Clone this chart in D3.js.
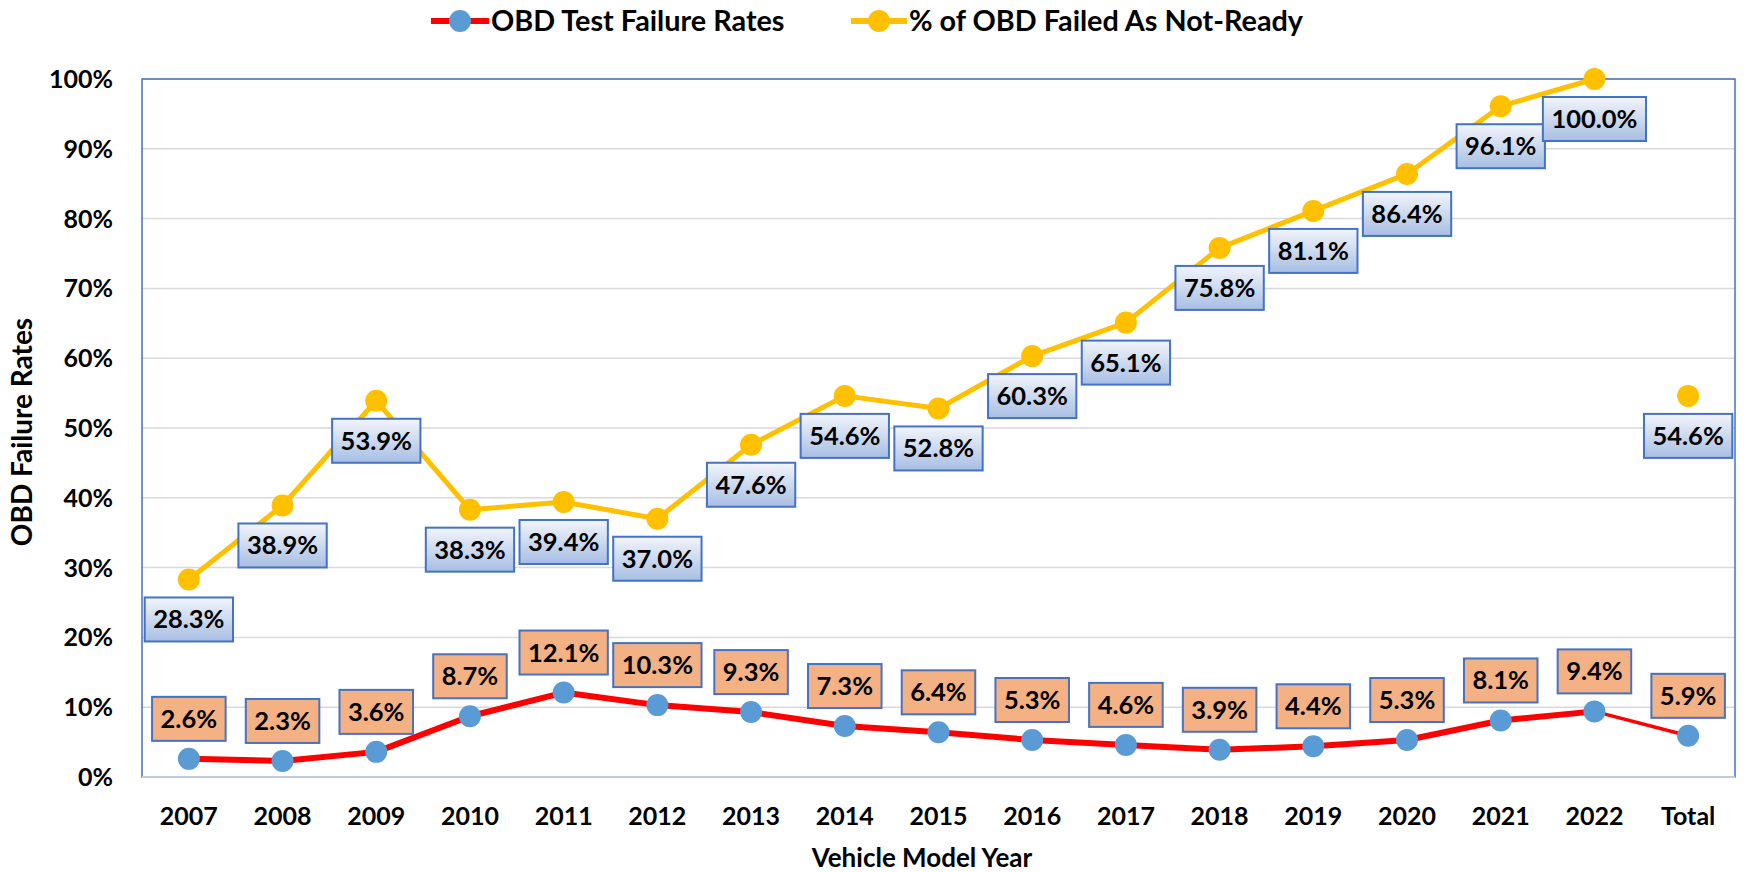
<!DOCTYPE html>
<html>
<head>
<meta charset="utf-8">
<script src="https://cdn.jsdelivr.net/npm/d3@7"></script>
<style>
  body { margin: 0; background: #fff; }
  text { font-family: Lato, "Open Sans", sans-serif; font-weight: bold; fill: #000; }
</style>
</head>
<body>
<div id="chart"></div>
<script>
// Model years (last one is the overall total)
var years = ["2007", "2008", "2009", "2010", "2011", "2012", "2013", "2014", "2015",
  "2016", "2017", "2018", "2019", "2020", "2021", "2022", "Total"];

// OBD test failure rates, %
var failRates = [2.6, 2.3, 3.6, 8.7, 12.1, 10.3, 9.3, 7.3, 6.4, 5.3, 4.6, 3.9, 4.4, 5.3, 8.1, 9.4, 5.9];

// % of OBD failures that failed as not-ready
var notReady = [28.3, 38.9, 53.9, 38.3, 39.4, 37.0, 47.6, 54.6, 52.8, 60.3, 65.1, 75.8, 81.1, 86.4, 96.1, 100.0, 54.6];

var yTicks = [0, 10, 20, 30, 40, 50, 60, 70, 80, 90, 100];

var W = 1744, H = 872;
var plotL = 142, plotR = 1735, plotT = 79, plotB = 777;

var svg = d3.select("#chart")
  .append("svg")
  .attr("width", W)
  .attr("height", H);

// gradient for the blue label boxes
var grad = svg.append("defs").append("linearGradient")
  .attr("id", "blueBox")
  .attr("x1", 0).attr("y1", 0).attr("x2", 0).attr("y2", 1);
grad.append("stop").attr("offset", "0%").attr("stop-color", "#f2f5fb");
grad.append("stop").attr("offset", "100%").attr("stop-color", "#a7bee3");

var x = d3.scaleBand().domain(years).range([plotL, plotR]);
var y = d3.scaleLinear().domain([0, 100]).range([plotB, plotT]);
var cx = function(i) { return x(years[i]) + x.bandwidth() / 2; };

// Gridlines
svg.append("g")
  .selectAll("line")
  .data(yTicks.slice(1))
  .enter().append("line")
  .attr("x1", plotL).attr("x2", plotR)
  .attr("y1", d => y(d)).attr("y2", d => y(d))
  .attr("stroke", "#d9d9d9")
  .attr("stroke-width", 1.5);

// plot border
svg.append("rect")
  .attr("x", plotL).attr("y", plotT)
  .attr("width", plotR - plotL).attr("height", plotB - plotT)
  .attr("fill", "none")
  .attr("stroke", "#4472c4")
  .attr("stroke-width", 1.5);

svg.append("line")
  .attr("x1", plotL).attr("x2", plotR)
  .attr("y1", plotB).attr("y2", plotB)
  .attr("stroke", "#c3cbdb")
  .attr("stroke-width", 2);

// Y axis labels
svg.append("g")
  .selectAll("text")
  .data(yTicks)
  .enter().append("text")
  .attr("x", 113)
  .attr("y", d => y(d) + 9)
  .attr("text-anchor", "end")
  .style("font-size", "25px")
  .text(d => d + "%");

// X axis labels
svg.append("g")
  .selectAll("text")
  .data(years)
  .enter().append("text")
  .attr("x", d => x(d) + x.bandwidth() / 2)
  .attr("y", 825)
  .attr("text-anchor", "middle")
  .style("font-size", "25px")
  .text(d => d);

// Axis titles
svg.append("text")
  .attr("x", 922)
  .attr("y", 867)
  .attr("text-anchor", "middle")
  .style("font-size", "26px")
  .text("Vehicle Model Year");

svg.append("text")
  .attr("transform", "translate(32,432) rotate(-90)")
  .attr("text-anchor", "middle")
  .style("font-size", "28px")
  .text("OBD Failure Rates");

// yellow line, 2007-2022 only
var yrIdx = d3.range(0, 16);
svg.append("path")
  .attr("d", d3.line().x(i => cx(i)).y(i => y(notReady[i]))(yrIdx))
  .attr("fill", "none")
  .attr("stroke", "#ffc000")
  .attr("stroke-width", 5)
  .attr("stroke-linejoin", "round");

// red line, thick through 2022 then thin to total
svg.append("path")
  .attr("d", d3.line().x(i => cx(i)).y(i => y(failRates[i]))(yrIdx))
  .attr("fill", "none")
  .attr("stroke", "#ff0000")
  .attr("stroke-width", 6)
  .attr("stroke-linejoin", "round");
svg.append("path")
  .attr("d", d3.line().x(i => cx(i)).y(i => y(failRates[i]))([15, 16]))
  .attr("fill", "none")
  .attr("stroke", "#ff0000")
  .attr("stroke-width", 3.5);

// markers
svg.append("g")
  .selectAll("circle")
  .data(notReady)
  .enter().append("circle")
  .attr("cx", (d, i) => cx(i))
  .attr("cy", d => y(d))
  .attr("r", 11)
  .attr("fill", "#ffc000");

svg.append("g")
  .selectAll("circle")
  .data(failRates)
  .enter().append("circle")
  .attr("cx", (d, i) => cx(i))
  .attr("cy", d => y(d))
  .attr("r", 11)
  .attr("fill", "#5b9bd5");

// data label boxes
function addLabels(values, below, fill) {
  var g = svg.append("g");
  values.forEach(function(v, i) {
    var lg = g.append("g");
    var t = lg.append("text")
      .attr("text-anchor", "middle")
      .style("font-size", "25.5px")
      .text(v.toFixed(1) + "%");
    var tw = t.node().getComputedTextLength();
    var bw = tw + 17, bh = 44;
    var px = cx(i), py = y(v);
    var by = below ? py + 18 : py - 18 - bh;
    lg.insert("rect", "text")
      .attr("x", px - bw / 2).attr("y", by)
      .attr("width", bw).attr("height", bh)
      .attr("fill", fill)
      .attr("stroke", "#4472c4")
      .attr("stroke-width", 2);
    t.attr("x", px).attr("y", by + bh / 2 + 9);
  });
}
addLabels(notReady, true, "url(#blueBox)");
addLabels(failRates, false, "#f4b183");

// Legend
var legend = [
  { name: "OBD Test Failure Rates", line: "#ff0000", dot: "#5b9bd5", x0: 431, x1: 489 },
  { name: "% of OBD Failed As Not-Ready", line: "#ffc000", dot: "#ffc000", x0: 851, x1: 907 }
];
var lg = svg.append("g").selectAll("g").data(legend).enter().append("g");
lg.append("line")
  .attr("x1", d => d.x0).attr("x2", d => d.x1)
  .attr("y1", 21).attr("y2", 21)
  .attr("stroke", d => d.line)
  .attr("stroke-width", 6);
lg.append("circle")
  .attr("cx", d => (d.x0 + d.x1) / 2)
  .attr("cy", 21)
  .attr("r", 11)
  .attr("fill", d => d.dot);
lg.append("text")
  .attr("x", d => d.x1 + 2)
  .attr("y", 31)
  .style("font-size", "28.8px")
  .text(d => d.name);
</script>
</body>
</html>
